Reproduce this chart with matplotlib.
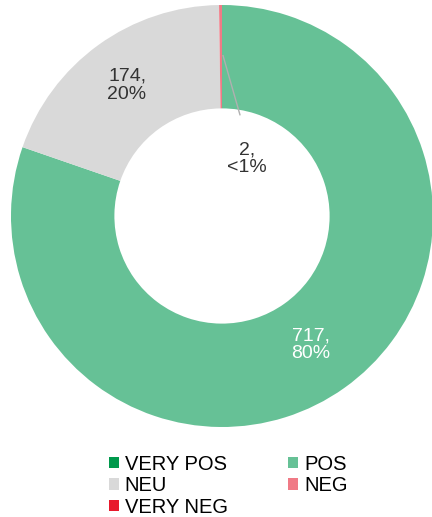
import numpy as np
import matplotlib.pyplot as plt
from matplotlib.patches import Patch

plt.rcParams['font.family'] = ['Liberation Sans', 'DejaVu Sans']

# sentiment counts
categories = ['VERY POS', 'POS', 'NEU', 'NEG', 'VERY NEG']
counts = [0, 717, 174, 2, 0]
pct_labels = ['', '80%', '20%', '<1%', '']
colors = ['#00994C', '#66C196', '#D9D9D9', '#F07A86', '#E8192C']

fig = plt.figure(figsize=(4.32, 5.17), dpi=100)
# donut area: centre ~(222, 216) px, radius ~211 px
ax = fig.add_axes([11 / 432, (517 - 427) / 517, 422 / 432, 422 / 517])

wedges, _ = ax.pie(counts, colors=colors, startangle=90, counterclock=False,
                   radius=1.0, wedgeprops=dict(width=0.49, edgecolor='none'))
ax.set_aspect('equal')
ax.set_xlim(-1, 1)
ax.set_ylim(-1, 1)

# data labels
ax.text(0.42, -0.61, f'{counts[1]},\n{pct_labels[1]}', color='white', fontsize=14,
        ha='center', va='center', linespacing=1.05)
ax.text(-0.45, 0.62, f'{counts[2]},\n{pct_labels[2]}', color='#333333', fontsize=14,
        ha='center', va='center', linespacing=1.05)
ax.text(0.12, 0.27, f'{counts[3]},\n{pct_labels[3]}', color='#333333', fontsize=14,
        ha='center', va='center', linespacing=1.05)
ax.plot([0.005, 0.085], [0.76, 0.48], color='#B0B0B0', lw=1)

order = [0, 2, 4, 1, 3]
handles = [Patch(facecolor=colors[i], edgecolor='none') for i in order]
labels = [categories[i] for i in order]
fig.legend(handles, labels, ncol=2, loc='upper left', bbox_to_anchor=(0.228, 0.14),
           frameon=False, fontsize=14.5, handlelength=0.5, handleheight=0.5,
           handletextpad=0.3, columnspacing=3.0, labelspacing=0.12, borderpad=0)

fig.savefig('out.png', dpi=100)
